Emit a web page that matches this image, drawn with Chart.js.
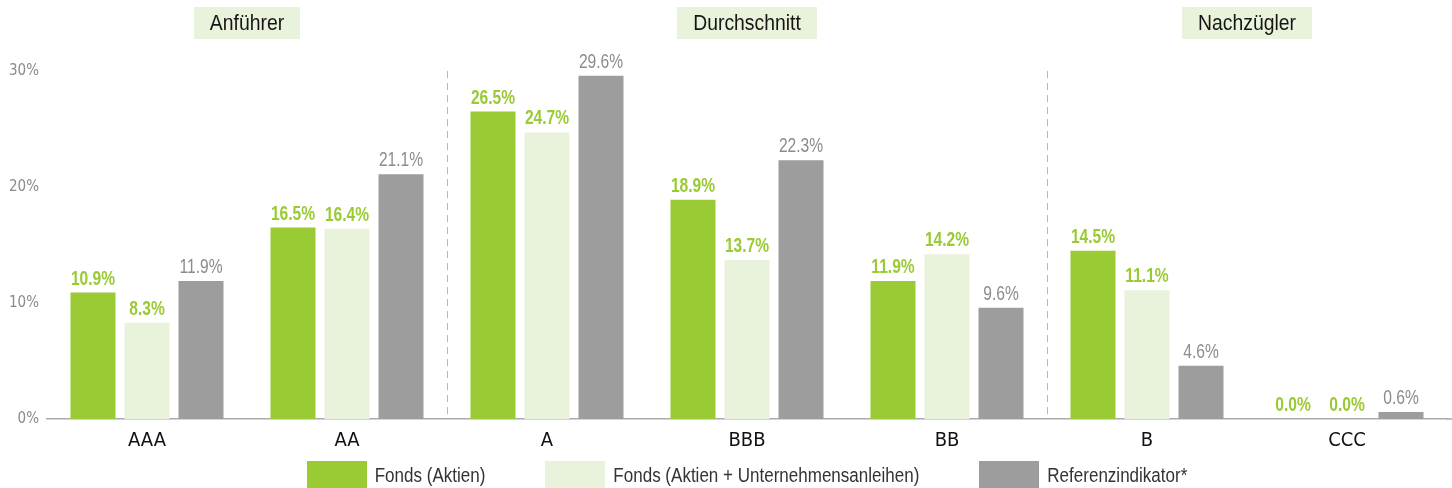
<!DOCTYPE html>
<html>
<head>
<meta charset="utf-8">
<script src="https://cdn.jsdelivr.net/npm/chart.js@4.4.0/dist/chart.umd.min.js"></script>
<style>
  html, body { margin: 0; padding: 0; background: #fff; }
  #wrap { width: 1452px; height: 488px; position: relative; }
</style>
</head>
<body>
<div id="wrap"><canvas id="ratingChart"></canvas></div>
<script>
// Daten
const categories = ['AAA', 'AA', 'A', 'BBB', 'BB', 'B', 'CCC'];
const fondsAktien = [10.9, 16.5, 26.5, 18.9, 11.9, 14.5, 0.0];
const fondsMix = [8.3, 16.4, 24.7, 13.7, 14.2, 11.1, 0.0];
const referenz = [11.9, 21.1, 29.6, 22.3, 9.6, 4.6, 0.6];
const seriesNames = ['Fonds (Aktien)', 'Fonds (Aktien + Unternehmensanleihen)', 'Referenzindikator*'];
const yTicks = [0, 10, 20, 30];
const groupNames = ['Anführer', 'Durchschnitt', 'Nachzügler'];
const groupRanges = [[0, 1], [2, 4], [5, 6]];

const AXIS_FONT = "'DejaVu Sans Condensed', 'DejaVu Sans', sans-serif";
const TEXT_FONT = "'Liberation Sans', Arial, sans-serif";
const GREEN = '#9aca34';
const LIGHT = '#e9f2db';
const GRAY = '#9d9d9d';

Chart.defaults.font.family = AXIS_FONT;

function midPixel(scale, a, b) {
  return (scale.getPixelForValue(a) + scale.getPixelForValue(b)) / 2;
}

// Text horizontal gestaucht zeichnen (schmale Schrift nachahmen)
function condensedText(ctx, text, x, y, sx, align) {
  const w = ctx.measureText(text).width * sx;
  let left = x;
  if (align === 'center') left = x - w / 2;
  else if (align === 'right') left = x - w;
  ctx.save();
  ctx.translate(left, y);
  ctx.scale(sx, 1);
  ctx.textAlign = 'left';
  ctx.fillText(text, 0, 0);
  ctx.restore();
  return w;
}

// Trennlinien, Werte, Gruppenköpfe und Legende
const decorations = {
  id: 'decorations',
  beforeDatasetsDraw(chart) {
    const { ctx, chartArea, scales: { x } } = chart;
    ctx.save();
    // Achse bis zum rechten Rand verlängern
    ctx.strokeStyle = '#aaaaaa';
    ctx.lineWidth = 1.5;
    ctx.beginPath();
    ctx.moveTo(chartArea.right, chartArea.bottom);
    ctx.lineTo(chart.width, chartArea.bottom);
    ctx.stroke();

    ctx.strokeStyle = '#b8b8b8';
    ctx.lineWidth = 1;
    ctx.setLineDash([7, 5]);
    for (let i = 0; i < groupRanges.length - 1; i++) {
      const px = Math.round(midPixel(x, groupRanges[i][1], groupRanges[i + 1][0])) + 0.5;
      ctx.beginPath();
      ctx.moveTo(px, chartArea.top);
      ctx.lineTo(px, chartArea.bottom);
      ctx.stroke();
    }
    ctx.restore();
  },
  afterDatasetsDraw(chart) {
    const { ctx, chartArea, scales: { x } } = chart;
    ctx.save();

    // Werte über den Balken
    ctx.textBaseline = 'alphabetic';
    chart.data.datasets.forEach((ds, i) => {
      const meta = chart.getDatasetMeta(i);
      ctx.font = (i < 2 ? 'bold ' : '') + '19.5px ' + TEXT_FONT;
      ctx.fillStyle = i < 2 ? GREEN : '#8c8c8c';
      meta.data.forEach((bar, j) => {
        condensedText(ctx, ds.data[j].toFixed(1) + '%', bar.x, bar.y - 8, 0.8, 'center');
      });
    });

    // Gruppenköpfe
    ctx.font = '22px ' + TEXT_FONT;
    ctx.textBaseline = 'middle';
    const hsx = 0.88;
    groupNames.forEach((name, i) => {
      const cx = midPixel(x, groupRanges[i][0], groupRanges[i][1]);
      const w = ctx.measureText(name).width * hsx + 32;
      ctx.fillStyle = LIGHT;
      ctx.fillRect(Math.round(cx - w / 2), 7, Math.round(w), 32);
      ctx.fillStyle = '#151515';
      condensedText(ctx, name, cx, 24, hsx, 'center');
    });

    // Legende
    ctx.font = '20.5px ' + TEXT_FONT;
    const lsx = 0.83;
    const boxW = 60, gapText = 8, gapItem = 60;
    const items = chart.data.datasets.map(ds => ({
      label: ds.label,
      color: ds.backgroundColor,
      w: boxW + gapText + ctx.measureText(ds.label).width * lsx
    }));
    const total = items.reduce((s, it) => s + it.w, 0) + gapItem * (items.length - 1);
    let lx = (chartArea.left + chartArea.right) / 2 - total / 2;
    items.forEach(it => {
      ctx.fillStyle = it.color;
      ctx.fillRect(Math.round(lx), 461, boxW, 28);
      ctx.fillStyle = '#333';
      condensedText(ctx, it.label, lx + boxW + gapText, 476, lsx, 'left');
      lx += it.w + gapItem;
    });

    ctx.restore();
  }
};

new Chart(document.getElementById('ratingChart'), {
  type: 'bar',
  data: {
    labels: categories,
    datasets: [
      { label: seriesNames[0], data: fondsAktien, backgroundColor: GREEN },
      { label: seriesNames[1], data: fondsMix, backgroundColor: LIGHT },
      { label: seriesNames[2], data: referenz, backgroundColor: GRAY }
    ]
  },
  options: {
    responsive: true,
    maintainAspectRatio: false,
    animation: false,
    layout: { padding: { top: 71, right: 5, left: 0, bottom: 0 } },
    datasets: {
      bar: { categoryPercentage: 0.81, barPercentage: 0.8333 }
    },
    plugins: {
      legend: { display: false },
      tooltip: { enabled: false }
    },
    scales: {
      x: {
        grid: { display: false, drawTicks: false },
        border: { display: true, color: '#aaaaaa', width: 1.5 },
        ticks: { color: '#111', font: { size: 20 }, padding: 10 },
        afterFit: s => { s.height = 69; }
      },
      y: {
        min: 0,
        max: 30,
        grid: { display: false, drawTicks: false },
        border: { display: false },
        afterBuildTicks: s => { s.ticks = yTicks.map(v => ({ value: v })); },
        ticks: {
          color: '#8a8a8a',
          font: { size: 15 },
          padding: 8,
          callback: v => v + '%'
        },
        afterFit: s => { s.width = 47; }
      }
    }
  },
  plugins: [decorations]
});
</script>
</body>
</html>
